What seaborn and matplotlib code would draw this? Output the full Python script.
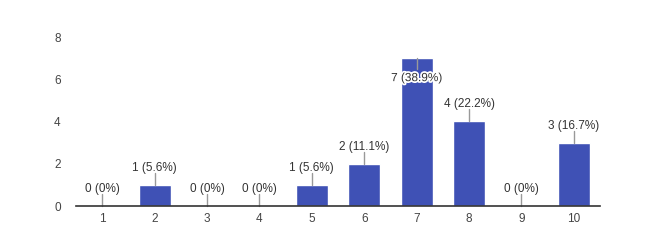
import matplotlib
matplotlib.use("Agg")
import matplotlib.pyplot as plt
import matplotlib.patheffects as pe
import seaborn as sns
import pandas as pd

categories = ["1", "2", "3", "4", "5", "6", "7", "8", "9", "10"]
counts = [0, 1, 0, 0, 1, 2, 7, 4, 0, 3]
percents = ["0%", "5.6%", "0%", "0%", "5.6%", "11.1%", "38.9%", "22.2%", "0%", "16.7%"]
y_ticks = [0, 2, 4, 6, 8]

sns.set_theme(style="white")
plt.rcParams['font.family'] = ['Liberation Sans', 'DejaVu Sans']

df = pd.DataFrame({"cat": categories, "count": counts})

fig = plt.figure(figsize=(6.48, 2.47), dpi=100)
ax = fig.add_axes([76/648, 1 - 206/247, 524/648, (206 - 37)/247])

sns.barplot(data=df, x="cat", y="count", order=categories, color="#3f51b5",
            saturation=1, width=0.61, ax=ax)

ax.set_xlim(-0.5, 9.5)
ax.set_ylim(0, 8)
ax.set_yticks(y_ticks)
ax.set_xlabel("")
ax.set_ylabel("")
for s in ["top", "right", "left"]:
    ax.spines[s].set_visible(False)
ax.spines["bottom"].set_color("#333333")
ax.spines["bottom"].set_linewidth(1.2)
ax.tick_params(axis="both", length=0, labelsize=8.5, colors="#444444")
ax.tick_params(axis="y", pad=11)
ax.tick_params(axis="x", pad=5)

px = 8.0 / 169  # data units per pixel in y
for i, (c, p) in enumerate(zip(counts, percents)):
    label = f"{c} ({p})"
    if c >= 7:
        ax.plot([i, i], [c, c - 11 * px], color="#999999", lw=1, clip_on=False)
        ax.text(i, c - 20 * px, label, ha="center", va="center", fontsize=8.5,
                color="#333333",
                path_effects=[pe.withStroke(linewidth=2.5, foreground="white")])
    else:
        ax.plot([i, i], [c, c + 12 * px], color="#999999", lw=1, clip_on=False)
        ax.text(i, c + 17 * px, label, ha="center", va="center", fontsize=8.5,
                color="#333333")

fig.savefig("out.png", dpi=100)
